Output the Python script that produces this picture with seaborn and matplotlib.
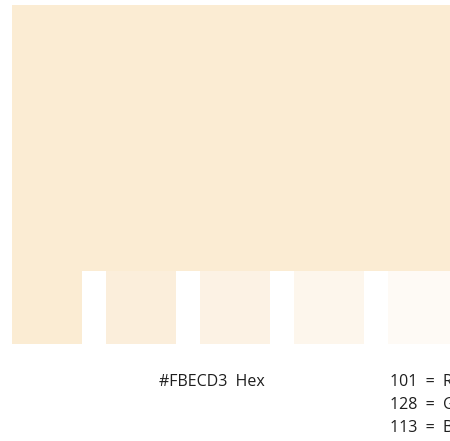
import matplotlib
matplotlib.use("Agg")
import matplotlib.pyplot as plt
import seaborn as sns

# swatch data
base_hex = "#FBECD3"
swatch_colors = ["#FBECD3", "#FBEEDB", "#FCF2E4", "#FDF6EC", "#FEFAF5"]
hex_label = "#FBECD3  Hex"
rgb_values = [101, 128, 113]
channel_names = ["R", "G", "B"]

sns.set_style("white")
plt.rcParams['font.family'] = ['Open Sans', 'DejaVu Sans']

fig = plt.figure(figsize=(4.5, 4.41), dpi=100)
ax = fig.add_axes([0, 0, 1, 1])
ax.set_xlim(0, 450)
ax.set_ylim(441, 0)
ax.axis("off")

# big swatch on top
ax.bar(12, 266, width=460, bottom=5, align="edge", color=base_hex, linewidth=0)

# row of tints under it
for i, c in enumerate(swatch_colors):
    ax.bar(12 + i * 94, 73, width=70, bottom=271, align="edge", color=c, linewidth=0)

ax.text(159, 386, hex_label, fontsize=11.5, color="#1e1e1e", va="baseline", ha="left")
for i, (v, ch) in enumerate(zip(rgb_values, channel_names)):
    ax.text(390, 386 + i * 23, f"{v}  =  {ch}", fontsize=11.5, color="#1e1e1e",
            va="baseline", ha="left")

fig.savefig("out.png", dpi=100)
